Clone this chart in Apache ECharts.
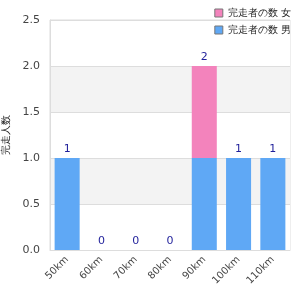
<!DOCTYPE html>
<html>
<head>
<meta charset="utf-8">
<script src="https://cdn.jsdelivr.net/npm/echarts@6/dist/echarts.min.js"></script>
<style>
  html, body { margin: 0; padding: 0; background: #fff; }
  #chart { width: 300px; height: 300px; }
</style>
</head>
<body>
<div id="chart"></div>
<script>
//////////////////////////////////////////////////////////////////
// [ Data ]

var categories = ['50km', '60km', '70km', '80km', '90km', '100km', '110km'];
var seriesNames = ['完走者の数 女', '完走者の数 男'];
var femaleValues = [0, 0, 0, 0, 1, 0, 0];
var maleValues = [1, 0, 0, 0, 1, 1, 1];
var yTicks = [0, 0.5, 1, 1.5, 2, 2.5];

var totals = categories.map(function (c, i) {
    return femaleValues[i] + maleValues[i];
});

//////////////////////////////////////////////////////////////////
// [ Chart ]

var chart = echarts.init(document.getElementById('chart'));
var font = 'DejaVu Sans';

var options = {
    animation: false,
    textStyle: { fontFamily: font },
    legend: {
        data: seriesNames,
        orient: 'vertical',
        right: 4,
        top: 3,
        icon: 'rect',
        itemWidth: 8,
        itemHeight: 8,
        itemGap: 7,
        itemStyle: { borderColor: '#777', borderWidth: 1 },
        textStyle: { fontSize: 10, color: '#222', fontFamily: font }
    },
    grid: {
        left: 50, right: 10, top: 20, bottom: 50,
        outerBoundsMode: 'none',
        containLabel: false,
        show: true,
        borderColor: '#ddd',
        borderWidth: 1
    },
    xAxis: {
        type: 'category',
        data: categories,
        axisLine: { lineStyle: { color: '#ddd' } },
        axisTick: { show: false },
        axisLabel: { rotate: 45, fontSize: 10, color: '#444', margin: 8 }
    },
    yAxis: {
        type: 'value',
        name: '完走人数',
        nameLocation: 'middle',
        nameRotate: 90,
        nameGap: 38,
        nameTextStyle: { fontSize: 10, color: '#222' },
        min: yTicks[0],
        max: yTicks[yTicks.length - 1],
        interval: 0.5,
        axisLine: { show: true, lineStyle: { color: '#ddd' } },
        axisLabel: {
            fontSize: 11, color: '#444', margin: 10,
            formatter: function (v) { return v.toFixed(1); }
        },
        splitLine: { lineStyle: { color: '#ddd' } },
        splitArea: { show: true, areaStyle: { color: ['#ffffff', '#f3f3f3'] } }
    },
    series: [
        {
            name: seriesNames[1],
            type: 'bar',
            stack: 'total',
            data: maleValues,
            barCategoryGap: '27%',
            itemStyle: { color: '#5fa8f5' }
        },
        {
            name: seriesNames[0],
            type: 'bar',
            stack: 'total',
            data: femaleValues,
            itemStyle: { color: '#f383bc' },
            label: {
                show: true,
                position: 'top',
                distance: 3,
                fontSize: 11,
                color: '#1f1f9a',
                formatter: function (p) { return totals[p.dataIndex]; }
            }
        }
    ]
};

chart.setOption(options);
</script>
</body>
</html>
